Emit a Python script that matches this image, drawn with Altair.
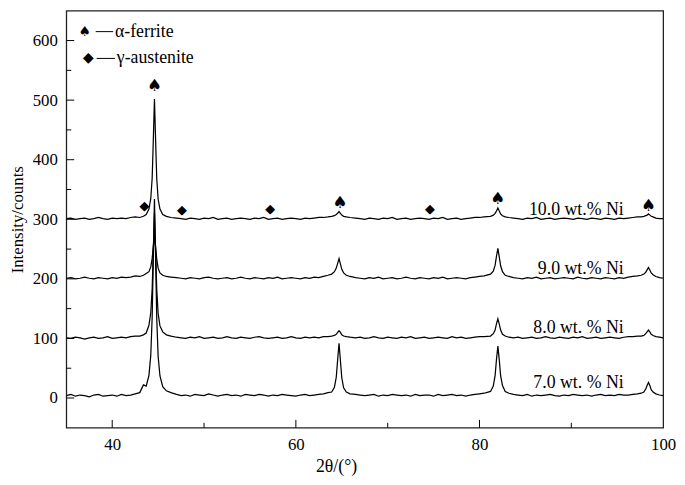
import altair as alt
import pandas as pd

# ---------------- data ----------------
# 2θ sampling positions (degrees): baseline stretches and denser points around the peaks
theta_b1 = [35.0, 35.5, 36.0, 36.5, 37.0, 37.5, 38.0, 38.5, 39.0, 39.5, 40.0, 40.5, 41.0, 41.5, 42.0, 42.5]
theta_p1 = [43.0, 43.4, 43.7, 44.0, 44.2, 44.35, 44.45, 44.6, 44.75, 44.85, 45.0, 45.2, 45.5, 45.9, 46.4]
theta_b2 = [47.0, 47.5, 48.0, 48.5, 49.0, 49.5, 50.0, 50.5, 51.0, 51.5, 52.0, 52.5, 53.0, 53.5, 54.0, 54.5, 55.0,
            55.5, 56.0, 56.5, 57.0, 57.5, 58.0, 58.5, 59.0, 59.5, 60.0, 60.5, 61.0, 61.5, 62.0, 62.5, 63.0, 63.5]
theta_p2 = [63.9, 64.2, 64.4, 64.55, 64.7, 64.85, 65.0, 65.2, 65.5, 65.9]
theta_b3 = [66.5, 67.0, 67.5, 68.0, 68.5, 69.0, 69.5, 70.0, 70.5, 71.0, 71.5, 72.0, 72.5, 73.0, 73.5, 74.0, 74.5,
            75.0, 75.5, 76.0, 76.5, 77.0, 77.5, 78.0, 78.5, 79.0, 79.5, 80.0, 80.5]
theta_p3 = [81.2, 81.5, 81.7, 81.85, 82.0, 82.15, 82.3, 82.5, 82.8, 83.2]
theta_b4 = [83.7, 84.2, 84.7, 85.2, 85.7, 86.2, 86.7, 87.2, 87.7, 88.2, 88.7, 89.2, 89.7, 90.2, 90.7, 91.2, 91.7,
            92.2, 92.7, 93.2, 93.7, 94.2, 94.7, 95.2, 95.7, 96.2, 96.7, 97.2]
theta_p4 = [97.6, 97.9, 98.1, 98.25, 98.4, 98.55, 98.7, 98.9, 99.2, 99.6, 100.0]
two_theta = theta_b1 + theta_p1 + theta_b2 + theta_p2 + theta_b3 + theta_p3 + theta_b4 + theta_p4

ni_7_0 = ([4, 6, 3, 5, 4, 2, 5, 6, 3, 4, 5, 3, 6, 4, 5, 7]
          + [9, 22, 20, 38, 72, 135, 215, 334, 215, 133, 70, 37, 19, 12, 9]
          + [6, 4, 5, 3, 6, 5, 4, 7, 5, 3, 5, 6, 4, 5, 3, 6, 5, 4, 6, 5, 3, 5, 4, 6, 5, 4, 3, 5, 6, 4, 5, 6, 7, 9]
          + [10, 18, 35, 64, 92, 63, 34, 17, 10, 7]
          + [6, 5, 4, 5, 6, 3, 5, 4, 6, 5, 4, 5, 3, 6, 4, 5, 5, 3, 6, 4, 5, 6, 4, 5, 3, 5, 6, 7, 8]
          + [11, 20, 38, 65, 87, 64, 37, 21, 11, 8]
          + [6, 5, 4, 6, 3, 5, 4, 5, 6, 4, 3, 5, 4, 6, 5, 4, 5, 3, 5, 6, 4, 5, 4, 6, 5, 5, 6, 7]
          + [8, 10, 15, 21, 26, 21, 14, 10, 7, 5, 4])

ni_8_0 = ([101, 100, 102, 101, 99, 101, 102, 100, 101, 103, 100, 101, 102, 101, 103, 104]
          + [104, 106, 109, 122, 143, 183, 236, 311, 236, 182, 142, 121, 111, 106, 104]
          + [102, 101, 100, 102, 101, 103, 100, 101, 102, 100, 101, 103, 101, 100, 102, 101, 100,
             102, 103, 101, 100, 101, 102, 100, 101, 103, 101, 100, 102, 101, 102, 101, 103, 103]
          + [104, 105, 107, 110, 113, 110, 106, 104, 103, 102]
          + [101, 102, 100, 101, 103, 101, 100, 102, 101, 100, 102, 101, 103, 100, 101, 102, 100,
             101, 102, 101, 100, 103, 101, 102, 100, 101, 102, 103, 103]
          + [104, 108, 114, 125, 133, 124, 114, 107, 104, 102]
          + [101, 102, 100, 101, 102, 100, 101, 103, 101, 100, 102, 101, 100, 102, 101, 103, 100,
             101, 102, 100, 101, 102, 101, 100, 102, 103, 103, 104]
          + [104, 105, 108, 111, 114, 111, 107, 105, 103, 102, 101])

ni_9_0 = ([201, 202, 200, 201, 203, 201, 200, 202, 201, 200, 202, 201, 203, 202, 203, 205]
          + [204, 206, 209, 212, 220, 234, 251, 272, 250, 233, 218, 210, 206, 204, 203]
          + [202, 201, 200, 202, 201, 200, 202, 203, 201, 200, 201, 202, 200, 201, 203, 201, 200,
             202, 201, 200, 202, 201, 203, 200, 201, 202, 201, 200, 202, 201, 203, 202, 204, 206]
          + [208, 212, 218, 226, 234, 225, 216, 210, 206, 204]
          + [202, 201, 200, 202, 201, 203, 200, 201, 202, 200, 201, 203, 201, 200, 202, 201, 200,
             202, 201, 203, 200, 201, 202, 201, 200, 202, 203, 204, 205]
          + [208, 213, 223, 238, 251, 237, 222, 212, 206, 204]
          + [202, 201, 200, 202, 201, 203, 200, 201, 202, 200, 201, 202, 201, 200, 203, 201, 200,
             202, 201, 200, 202, 201, 200, 202, 201, 203, 204, 205]
          + [206, 208, 211, 215, 219, 215, 210, 207, 204, 202, 201])

ni_10_0 = ([301, 302, 300, 301, 302, 300, 301, 303, 301, 300, 302, 301, 302, 301, 303, 304]
           + [303, 305, 308, 317, 335, 369, 419, 502, 419, 368, 334, 317, 308, 305, 303]
           + [302, 301, 300, 302, 301, 300, 302, 301, 303, 300, 301, 302, 300, 301, 302, 301, 300,
              302, 301, 303, 300, 301, 302, 300, 301, 302, 301, 300, 302, 301, 302, 303, 303, 304]
           + [305, 306, 308, 310, 313, 310, 307, 305, 304, 303]
           + [302, 301, 300, 302, 301, 300, 302, 301, 303, 300, 301, 302, 300, 301, 302, 301, 300,
              302, 301, 303, 300, 301, 302, 300, 301, 302, 303, 303, 304]
           + [305, 307, 310, 314, 319, 314, 309, 306, 304, 303]
           + [302, 301, 300, 302, 301, 303, 300, 301, 302, 300, 301, 302, 301, 300, 302, 301, 300,
              302, 301, 300, 302, 301, 300, 302, 301, 302, 303, 304]
           + [304, 305, 306, 307, 309, 307, 305, 304, 302, 301, 301])

sample_names = ["7.0 wt. % Ni", "8.0 wt. % Ni", "9.0 wt.% Ni", "10.0 wt.% Ni"]
sample_series = [ni_7_0, ni_8_0, ni_9_0, ni_10_0]
label_x = [95.7, 95.7, 95.7, 95.7]
label_y = [25, 117, 217, 316]

ferrite_x = [44.6, 64.8, 82.0, 98.4]
ferrite_y = [524, 328, 334, 323]
austenite_x = [43.5, 47.6, 57.2, 74.6]
austenite_y = [323, 315, 318, 318]

legend_symbols = ["♠", "◆"]
legend_names = ["α-ferrite", "γ-austenite"]
legend_sym_x = [37.0, 37.4]
legend_line_x = [38.2, 38.3]
legend_line_x2 = [40.1, 40.3]
legend_text_x = [40.3, 40.5]
legend_y = [615, 570]

x_major = [40, 60, 80]
x_minor = [50, 70, 90]
y_major = [0, 100, 200, 300, 400, 500, 600]
y_minor = [50, 150, 250, 350, 450, 550]

# ---------------- build tables ----------------
rows = []
for name, vals in zip(sample_names, sample_series):
    if len(vals) != len(two_theta):
        raise ValueError(f"{name}: {len(vals)} values vs {len(two_theta)} angles")
    for t, v in zip(two_theta, vals):
        rows.append({"two_theta": t, "intensity": v, "sample": name})
df = pd.DataFrame(rows)

labels_df = pd.DataFrame({"x": label_x, "y": label_y, "text": sample_names})
ferrite_df = pd.DataFrame({"x": ferrite_x, "y": ferrite_y, "s": ["♠"] * len(ferrite_x)})
aust_df = pd.DataFrame({"x": austenite_x, "y": austenite_y, "s": ["◆"] * len(austenite_x)})
legend_df = pd.DataFrame({"sym": legend_symbols, "name": legend_names, "sx": legend_sym_x,
                          "lx": legend_line_x, "lx2": legend_line_x2, "tx": legend_text_x,
                          "y": legend_y})

W, H = 604, 422
FONT = "Liberation Serif"
xs = alt.Scale(domain=[35, 100], nice=False, zero=False)
ys = alt.Scale(domain=[-50, 650], nice=False, zero=False)

lines = alt.Chart(df).mark_line(color="black", strokeWidth=1.25, clip=True).encode(
    x=alt.X("two_theta:Q", scale=xs,
            axis=alt.Axis(values=[40, 60, 80, 100], title="2θ/(°)", labelPadding=9,
                          labelFlush=False, titleX=273, titleY=30)),
    y=alt.Y("intensity:Q", scale=ys,
            axis=alt.Axis(values=y_major, title="Intensity/counts", labelPadding=9,
                          labelFlush=False, titleX=-40, titleY=H / 2, titleFontSize=17)),
    detail="sample:N",
)

labels = alt.Chart(labels_df).mark_text(font=FONT, fontSize=18, align="right", baseline="middle",
                                        color="black").encode(
    x=alt.X("x:Q", scale=xs), y=alt.Y("y:Q", scale=ys), text="text:N")

ferrite = alt.Chart(ferrite_df).mark_text(font="DejaVu Sans", fontSize=17, baseline="middle",
                                          color="black").encode(
    x=alt.X("x:Q", scale=xs), y=alt.Y("y:Q", scale=ys), text="s:N")
aust = alt.Chart(aust_df).mark_text(font="DejaVu Sans", fontSize=13, baseline="middle",
                                    color="black").encode(
    x=alt.X("x:Q", scale=xs), y=alt.Y("y:Q", scale=ys), text="s:N")

leg_sym = alt.Chart(legend_df).mark_text(font="DejaVu Sans", fontSize=14, baseline="middle",
                                         color="black").encode(
    x=alt.X("sx:Q", scale=xs), y=alt.Y("y:Q", scale=ys), text="sym:N")
leg_line = alt.Chart(legend_df).mark_rule(color="black", strokeWidth=1).encode(
    x=alt.X("lx:Q", scale=xs), x2="lx2:Q", y=alt.Y("y:Q", scale=ys))
leg_text = alt.Chart(legend_df).mark_text(font=FONT, fontSize=18, align="left", baseline="middle",
                                          color="black").encode(
    x=alt.X("tx:Q", scale=xs), y=alt.Y("y:Q", scale=ys), text="name:N")

xmaj = alt.Chart(pd.DataFrame({"v": x_major})).mark_rule(color="black", strokeWidth=1).encode(
    x=alt.X("v:Q", scale=xs), y=alt.value(H), y2=alt.value(H - 8))
xmin = alt.Chart(pd.DataFrame({"v": x_minor})).mark_rule(color="black", strokeWidth=1).encode(
    x=alt.X("v:Q", scale=xs), y=alt.value(H), y2=alt.value(H - 5))
ymaj = alt.Chart(pd.DataFrame({"v": y_major})).mark_rule(color="black", strokeWidth=1).encode(
    y=alt.Y("v:Q", scale=ys), x=alt.value(0), x2=alt.value(8))
ymin = alt.Chart(pd.DataFrame({"v": y_minor})).mark_rule(color="black", strokeWidth=1).encode(
    y=alt.Y("v:Q", scale=ys), x=alt.value(0), x2=alt.value(5))

chart = alt.layer(lines, labels, ferrite, aust, leg_sym, leg_line, leg_text,
                  xmaj, xmin, ymaj, ymin).properties(
    width=W, height=H,
    background="white",
    autosize=alt.AutoSizeParams(type="none"),
    padding={"left": 59, "top": 0, "right": 14, "bottom": 47},
).configure_view(
    stroke="#222222", strokeWidth=1.3
).configure_axis(
    grid=False, domain=False, ticks=False, tickSize=0,
    labelFont=FONT, labelFontSize=17, labelColor="black",
    titleFont=FONT, titleFontSize=18, titleFontWeight="normal", titleColor="black",
)

chart.save("out.html", embed_options={"renderer": "svg", "actions": False})
